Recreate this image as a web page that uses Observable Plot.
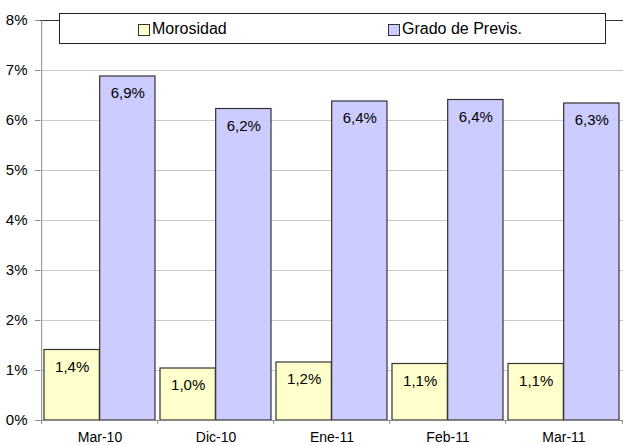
<!DOCTYPE html>
<html>
<head>
<meta charset="utf-8">
<script src="https://cdn.jsdelivr.net/npm/d3@7"></script>
<script src="https://cdn.jsdelivr.net/npm/@observablehq/plot@0.6"></script>
<style>
  html, body { margin: 0; padding: 0; background: #fff; }
  #wrap { position: relative; width: 623px; height: 445px; font-family: "Liberation Sans", Arial, sans-serif; }
  #legend { position: absolute; left: 59px; top: 13px; width: 545px; height: 29px; border: 1px solid #222; background: #fff; box-sizing: content-box; }
  .item { position: absolute; top: 0; height: 29px; display: flex; align-items: center; font-size: 16px; color: #000; }
  .sw { width: 10px; height: 10px; border: 1px solid #333; margin-right: 2px; margin-top: 3px; }
</style>
</head>
<body>
<div id="wrap">
  <div id="chart"></div>
  <div id="legend"></div>
</div>
<script>
const dates = ["Mar-10", "Dic-10", "Ene-11", "Feb-11", "Mar-11"];
const morosidad = [1.41, 1.04, 1.16, 1.13, 1.13];
const previs = [6.88, 6.23, 6.38, 6.41, 6.34];
const seriesNames = ["Morosidad", "Grado de Previs."];
const seriesColors = ["#FFFFCC", "#CCCCFF"];
const yTicks = [0, 1, 2, 3, 4, 5, 6, 7, 8];

const W = 623, H = 445;
const mL = 40, mR = 0, mT = 20, mB = 25;
const pInner = 0.045, pOuter = pInner / 2;

const xs = Plot.scale({x: {type: "band", domain: dates, range: [mL, W - mR], paddingInner: pInner, paddingOuter: pOuter}});
const bw = xs.bandwidth;
const step = xs.step;

const fmt = v => v.toFixed(1).replace(".", ",") + "%";
const dataA = dates.map((d, i) => ({date: d, value: morosidad[i]}));
const dataB = dates.map((d, i) => ({date: d, value: previs[i]}));

const chart = Plot.plot({
  width: W, height: H,
  marginLeft: mL, marginRight: mR, marginTop: mT, marginBottom: mB,
  style: {fontFamily: "'Liberation Sans', Arial, sans-serif", fontSize: "15px", color: "#000", background: "#fff"},
  x: {domain: dates, paddingInner: pInner, paddingOuter: pOuter, label: null},
  y: {domain: [0, 8], label: null},
  marks: [
    Plot.ruleY(yTicks.filter(t => t > 0 && t < 8), {stroke: "#c8c8c8", strokeWidth: 1}),
    Plot.ruleY([8], {stroke: "#333"}),
    Plot.barY(dataA, {x: "date", y: "value", fill: seriesColors[0], stroke: "#333", strokeWidth: 1.2, insetRight: bw / 2}),
    Plot.barY(dataB, {x: "date", y: "value", fill: seriesColors[1], stroke: "#333", strokeWidth: 1.2, insetLeft: bw / 2}),
    Plot.text(dataA, {x: "date", y: "value", text: d => fmt(d.value), dx: -bw / 4, dy: 17, fill: "#000", fontSize: 15}),
    Plot.text(dataB, {x: "date", y: "value", text: d => fmt(d.value), dx: bw / 4, dy: 17, fill: "#000", fontSize: 15}),
    Plot.ruleY([0], {stroke: "#888"}),
    Plot.ruleX([dates[0]], {x: d => d, y1: 0, y2: 8, dx: -step / 2, stroke: "#888"}),
    Plot.axisX({ticks: dates, tickSize: 4, tickFormat: () => "", dx: -step / 2, stroke: "#888"}),
    Plot.axisX({ticks: [dates[dates.length - 1]], tickSize: 4, tickFormat: () => "", dx: step / 2, stroke: "#888"}),
    Plot.axisX({ticks: dates, tickSize: 0, tickPadding: 12, fontSize: 14}),
    Plot.axisY({ticks: yTicks, tickSize: 5, tickPadding: 8, tickFormat: d => d + "%", fontSize: 15, stroke: "#888"})
  ]
});
document.getElementById("chart").appendChild(chart);

const legend = document.getElementById("legend");
const legendLefts = [78, 328];
seriesNames.forEach((name, i) => {
  const item = document.createElement("div");
  item.className = "item";
  item.style.left = legendLefts[i] + "px";
  const sw = document.createElement("div");
  sw.className = "sw";
  sw.style.background = seriesColors[i];
  const t = document.createElement("span");
  t.textContent = name;
  item.appendChild(sw);
  item.appendChild(t);
  legend.appendChild(item);
});
</script>
</body>
</html>
